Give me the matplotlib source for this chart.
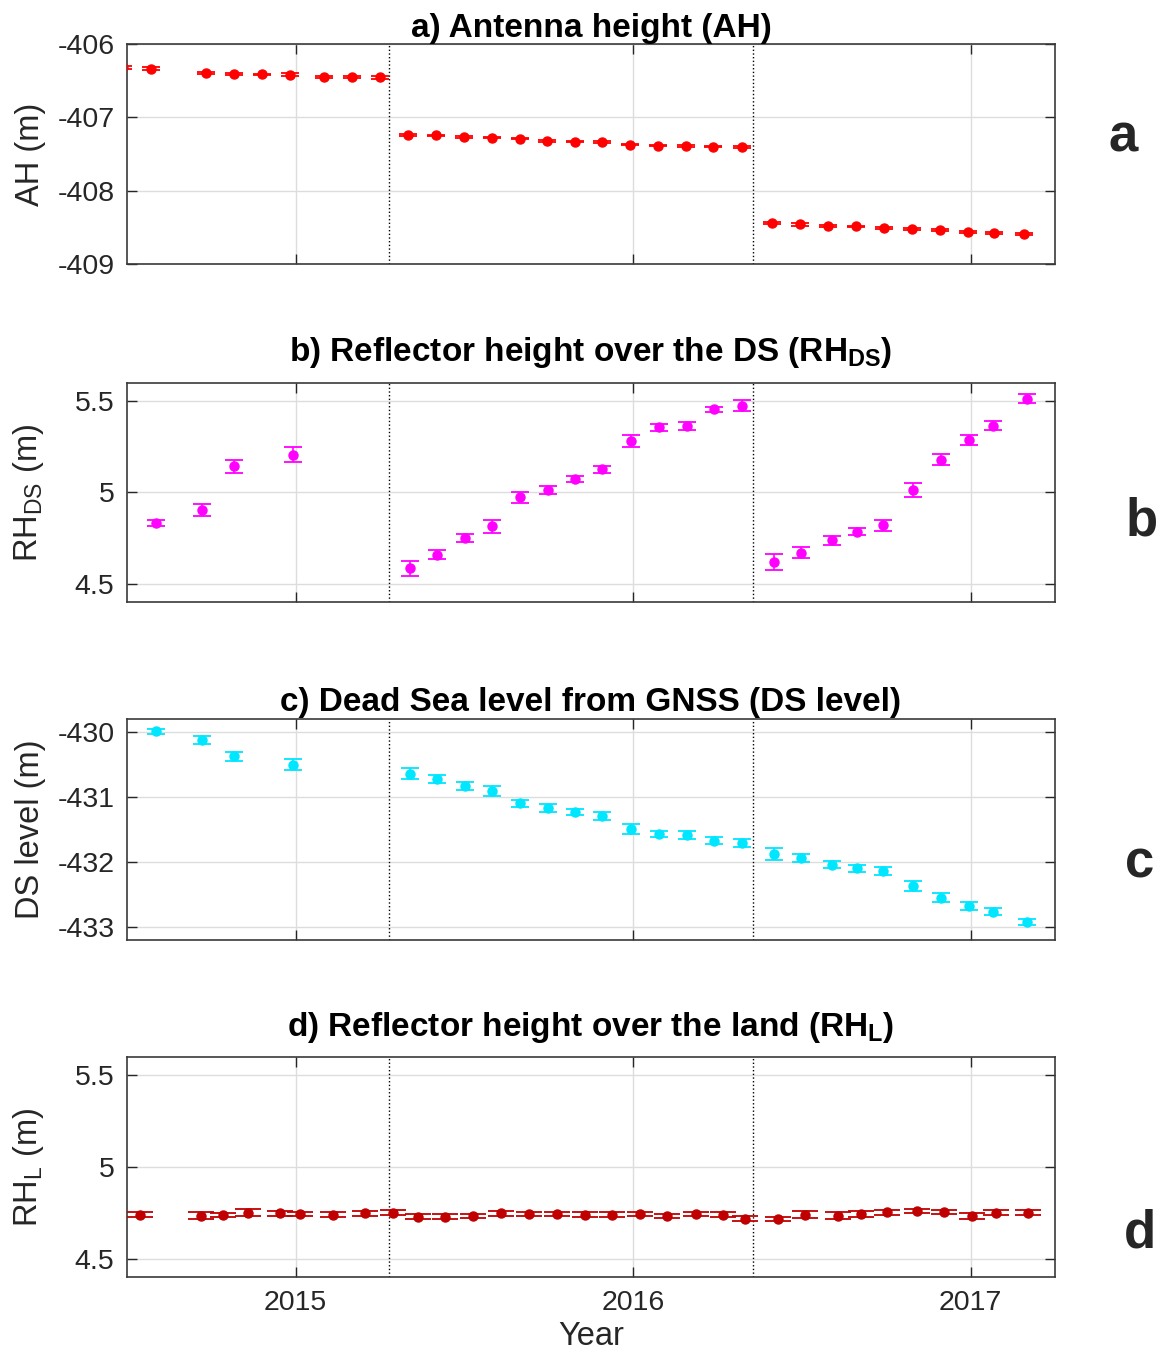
import numpy as np
import matplotlib
matplotlib.use('Agg')
import matplotlib.pyplot as plt
from matplotlib.ticker import FixedLocator, FormatStrFormatter

plt.rcParams['font.family'] = ['Liberation Sans', 'DejaVu Sans']
plt.rcParams['mathtext.fontset'] = 'custom'
plt.rcParams['mathtext.rm'] = 'Liberation Sans'
plt.rcParams['mathtext.bf'] = 'Liberation Sans:bold'
plt.rcParams['axes.unicode_minus'] = False

# ---- data ---------------------------------------------------------------
# a) antenna height
t_ah = [2014.489, 2014.572, 2014.734, 2014.817, 2014.899, 2014.983, 2015.084, 2015.167, 2015.250,
        2015.333, 2015.416, 2015.498, 2015.581, 2015.664, 2015.746, 2015.827, 2015.909, 2015.991,
        2016.073, 2016.156, 2016.238, 2016.321,
        2016.410, 2016.495, 2016.577, 2016.659, 2016.743, 2016.826, 2016.908, 2016.991, 2017.070,
        2017.158]
ah = [-406.32, -406.336, -406.394, -406.408, -406.413, -406.42, -406.449, -406.449, -406.454,
      -407.246, -407.246, -407.263, -407.277, -407.29, -407.318, -407.33, -407.34, -407.372,
      -407.386, -407.39, -407.40, -407.404,
      -408.437, -408.46, -408.477, -408.487, -408.509, -408.518, -408.536, -408.559, -408.573,
      -408.586]
ah_err = [0.018, 0.018, 0.015, 0.012, 0.01, 0.018, 0.015, 0.01, 0.018,
          0.012, 0.01, 0.012, 0.01, 0.01, 0.012, 0.01, 0.015, 0.012, 0.01, 0.01, 0.01, 0.018,
          0.012, 0.015, 0.015, 0.012, 0.015, 0.012, 0.012, 0.012, 0.015, 0.012]

# b) / c) share the same epochs
t_ds = [2014.586, 2014.723, 2014.818, 2014.992,
        2015.339, 2015.418, 2015.501, 2015.582, 2015.665, 2015.747, 2015.828, 2015.909, 2015.994,
        2016.077, 2016.160, 2016.239, 2016.321,
        2016.416, 2016.498, 2016.588, 2016.662, 2016.741, 2016.830, 2016.912, 2016.995, 2017.065,
        2017.166]
rh_ds = [4.831, 4.904, 5.143, 5.207,
         4.586, 4.660, 4.751, 4.816, 4.973, 5.013, 5.074, 5.127, 5.281, 5.357, 5.365, 5.455, 5.476,
         4.617, 4.671, 4.739, 4.785, 4.820, 5.013, 5.180, 5.287, 5.367, 5.515]
rh_ds_err = [0.016, 0.031, 0.035, 0.041,
             0.041, 0.025, 0.023, 0.036, 0.028, 0.022, 0.015, 0.019, 0.034, 0.018, 0.021, 0.015,
             0.029,
             0.044, 0.032, 0.025, 0.020, 0.029, 0.040, 0.032, 0.027, 0.023, 0.022]

ds_level = [-429.992, -430.12, -430.373, -430.501,
            -430.645, -430.728, -430.83, -430.907, -431.098, -431.165, -431.232, -431.289,
            -431.495, -431.567, -431.582, -431.670, -431.706,
            -431.881, -431.937, -432.04, -432.097, -432.143, -432.365, -432.55, -432.674,
            -432.767, -432.926]
ds_err = [0.036, 0.064, 0.072, 0.085,
          0.085, 0.059, 0.057, 0.077, 0.059, 0.059, 0.049, 0.062, 0.075, 0.051, 0.059, 0.049,
          0.062,
          0.09, 0.064, 0.054, 0.051, 0.062, 0.08, 0.07, 0.059, 0.054, 0.049]

# d) reflector height over the land
t_l = [2014.539, 2014.720, 2014.785, 2014.859, 2014.953, 2015.012, 2015.111, 2015.205, 2015.287,
       2015.361, 2015.443, 2015.525, 2015.607, 2015.690, 2015.773, 2015.857, 2015.938, 2016.019,
       2016.100, 2016.185, 2016.266, 2016.331, 2016.430, 2016.510, 2016.608, 2016.676, 2016.753,
       2016.841, 2016.922, 2017.003, 2017.075, 2017.169]
rh_l = [4.740, 4.734, 4.740, 4.751, 4.747, 4.743, 4.740, 4.747, 4.751,
        4.729, 4.729, 4.734, 4.747, 4.743, 4.743, 4.740, 4.740, 4.745,
        4.734, 4.745, 4.740, 4.718, 4.718, 4.740, 4.734, 4.745, 4.752,
        4.760, 4.756, 4.734, 4.751, 4.751]
rh_l_err = [0.012, 0.02, 0.01, 0.02, 0.014, 0.012, 0.014, 0.012, 0.012,
            0.012, 0.012, 0.012, 0.012, 0.012, 0.012, 0.012, 0.012, 0.012,
            0.012, 0.012, 0.012, 0.014, 0.012, 0.02, 0.02, 0.015, 0.014,
            0.012, 0.012, 0.015, 0.015, 0.015]

breaks = [2015.277, 2016.354]
year_ticks = [2015, 2016, 2017]

panels = [
    dict(t=t_ah, y=ah, e=ah_err, color='#ff0000', cap=6.5,
         title='a) Antenna height (AH)', pad=5, ylabel='AH (m)',
         ylim=(-409, -406), yticks=[-409, -408, -407, -406], letter='a', lx=1123, ly=151),
    dict(t=t_ds, y=rh_ds, e=rh_ds_err, color='#ff00ff', cap=6.5,
         title=r'b) Reflector height over the DS (RH$_{\mathbf{DS}}$)', pad=16,
         ylabel=r'RH$_{\mathrm{DS}}$ (m)',
         ylim=(4.4, 5.6), yticks=[4.5, 5, 5.5], letter='b', lx=1142, ly=535),
    dict(t=t_ds, y=ds_level, e=ds_err, color='#00e6ff', cap=6.5,
         title='c) Dead Sea level from GNSS (DS level)', pad=6, ylabel='DS level (m)',
         ylim=(-433.2, -429.8), yticks=[-433, -432, -431, -430], letter='c', lx=1140, ly=878),
    dict(t=t_l, y=rh_l, e=rh_l_err, color='#c00000', cap=9.4,
         title=r'd) Reflector height over the land (RH$_{\mathbf{L}}$)', pad=15,
         ylabel=r'RH$_{\mathrm{L}}$ (m)',
         ylim=(4.4, 5.6), yticks=[4.5, 5, 5.5], letter='d', lx=1140, ly=1247),
]

W, H = 1162, 1353
fig = plt.figure(figsize=(W / 100, H / 100), dpi=100)

# axes boxes in pixels: (top, bottom)
boxes = [(44, 264), (383, 602), (719, 940), (1057, 1277)]
left, right = 127, 1055
txt = '#262626'

for i, (p, (top, bot)) in enumerate(zip(panels, boxes)):
    ax = fig.add_axes([left / W, 1 - bot / H, (right - left) / W, (bot - top) / H])
    ax.errorbar(p['t'], p['y'], yerr=p['e'], fmt='o', color=p['color'], ms=6.5,
                capsize=p['cap'], elinewidth=1.2, capthick=1.3, zorder=3)
    for b in breaks:
        ax.axvline(b, color='k', ls=':', lw=1.0, zorder=2)
    ax.set_xlim(2014.5, 2017.25)
    ax.set_ylim(*p['ylim'])
    ax.xaxis.set_major_locator(FixedLocator(year_ticks))
    ax.yaxis.set_major_locator(FixedLocator(p['yticks']))
    ax.xaxis.set_major_formatter(FormatStrFormatter('%g'))
    ax.yaxis.set_major_formatter(FormatStrFormatter('%g'))
    ax.grid(True, color='#dddddd', lw=1.0, zorder=0)
    ax.set_axisbelow(True)
    ax.tick_params(direction='in', top=True, right=True, length=7, width=1.0,
                   labelsize=20.5, colors=txt, pad=9)
    for s in ax.spines.values():
        s.set_color('#3a3a3a')
        s.set_linewidth(1.2)
    if i < 3:
        ax.tick_params(labelbottom=False)
    else:
        ax.set_xlabel('Year', fontsize=23.5, color=txt, labelpad=4)
    ax.set_title(p['title'], fontsize=24, fontweight='bold', pad=p['pad'])
    ax.set_ylabel(p['ylabel'], fontsize=23.5, color=txt)
    ax.yaxis.set_label_coords(-0.087, 0.5)
    fig.text(p['lx'] / W, 1 - p['ly'] / H, p['letter'], fontsize=38, fontweight='bold',
             color=txt, ha='center', va='baseline')

fig.savefig('out.png', dpi=100)
